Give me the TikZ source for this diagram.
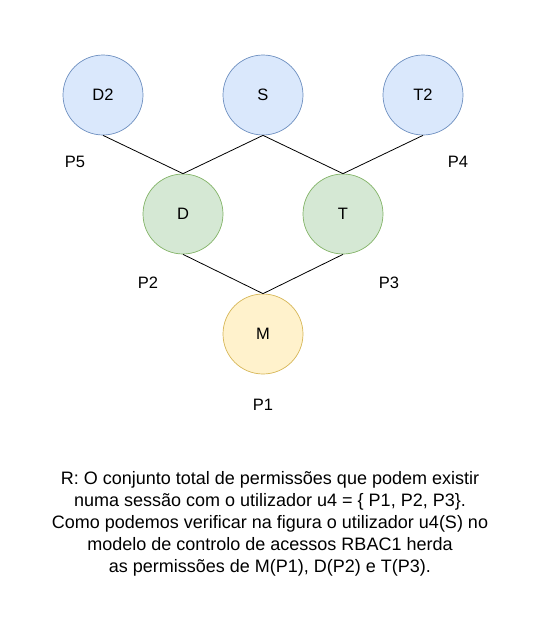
\documentclass[tikz,border=0pt]{standalone}
\usepackage{fontspec}
\setmainfont{Liberation Sans}
\definecolor{bfill}{HTML}{DAE8FC}\definecolor{bdraw}{HTML}{6C8EBF}
\definecolor{gfill}{HTML}{D5E8D4}\definecolor{gdraw}{HTML}{82B366}
\definecolor{yfill}{HTML}{FFF2CC}\definecolor{ydraw}{HTML}{D6B656}
\begin{document}
\begin{tikzpicture}[x=1pt,y=-1pt,
  role/.style={circle,minimum size=80pt,inner sep=0pt,line width=0.7pt,font=\fontsize{16.5}{20}\selectfont},
  blue/.style={role,fill=bfill,draw=bdraw},
  green/.style={role,fill=gfill,draw=gdraw},
  yellow/.style={role,fill=yfill,draw=ydraw},
  perm/.style={font=\fontsize{16.5}{20}\selectfont},
  link/.style={draw=black,line width=0.8pt}]
\useasboundingbox (0,0) rectangle (538,633);
\node[blue] (D2) at (103,95) {D2};
\node[blue] (S) at (263,95) {S};
\node[blue] (T2) at (423,95) {T2};
\node[green] (D) at (183,214) {D};
\node[green] (T) at (343,214) {T};
\node[yellow] (M) at (263,334) {M};
\node[perm] (P5) at (75,162) {P5};
\node[perm] (P4) at (458,162) {P4};
\node[perm] (P2) at (148,283) {P2};
\node[perm] (P3) at (389,283) {P3};
\node[perm] (P1) at (263,405) {P1};
\draw[link] (D2.south) -- (D.north);
\draw[link] (S.south) -- (D.north);
\draw[link] (S.south) -- (T.north);
\draw[link] (T2.south) -- (T.north);
\draw[link] (D.south) -- (M.north);
\draw[link] (T.south) -- (M.north);
\node[align=center,font=\fontsize{18}{22}\selectfont] (R) at (270,524) {R: O conjunto total de permissões que podem existir\\numa sessão com o utilizador u4 = \{ P1, P2, P3\}.\\Como podemos verificar na figura o utilizador u4(S) no\\modelo de controlo de acessos RBAC1 herda\\as permissões de M(P1), D(P2) e T(P3).};
\end{tikzpicture}
\end{document}
